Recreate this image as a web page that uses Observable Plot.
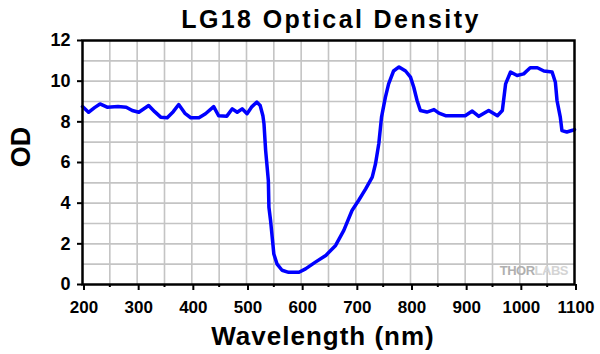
<!DOCTYPE html>
<html>
<head>
<meta charset="utf-8">
<script src="https://cdn.jsdelivr.net/npm/d3@7"></script>
<script src="https://cdn.jsdelivr.net/npm/@observablehq/plot@0.6"></script>
<style>
  html, body { margin: 0; padding: 0; background: #fff; }
  #chart { width: 600px; height: 354px; }
</style>
</head>
<body>
<div id="chart"></div>
<script>
const wavelengths = [200,211,222,232,245,265,280,291,303,321,332,343,355,366,376,388,398,413,425,440,449,464,474,483,492,501,510,519,525,530,532,535,540,541,544,547,550,556,565,577,596,608,626,645,663,678,693,705,718,730,736,742,747,754,760,769,779,791,800,806,812,818,830,843,852,864,882,900,913,925,943,959,968,974,983,995,1007,1019,1032,1044,1059,1065,1068,1074,1077,1086,1098,1100];
const odValues = [8.75,8.47,8.7,8.88,8.72,8.75,8.72,8.56,8.47,8.8,8.5,8.23,8.2,8.5,8.85,8.4,8.2,8.2,8.4,8.75,8.3,8.28,8.64,8.47,8.64,8.4,8.75,8.97,8.8,8.3,7.9,6.6,5.1,3.8,3.15,2.33,1.5,1.0,0.7,0.6,0.6,0.77,1.1,1.43,1.92,2.66,3.64,4.13,4.7,5.28,5.94,6.92,8.23,9.2,9.87,10.5,10.7,10.5,10.2,9.7,9.05,8.56,8.48,8.6,8.43,8.3,8.3,8.3,8.53,8.27,8.56,8.3,8.56,9.87,10.45,10.28,10.36,10.66,10.66,10.5,10.45,9.95,9.05,8.23,7.57,7.5,7.6,7.62];
const xTicks = [200,300,400,500,600,700,800,900,1000,1100];
const xMinorTicks = [250,350,450,550,650,750,850,950,1050];
const xGrid = [250,300,350,400,450,500,550,600,650,700,750,800,850,900,950,1000,1050];
const yTicks = [0,2,4,6,8,10,12];
const yGrid = [1,2,3,4,5,6,7,8,9,10,11];
const titleText = "LG18 Optical Density";
const xLabel = "Wavelength (nm)";
const yLabel = "OD";

const data = wavelengths.map((w, i) => ({w, od: odValues[i]}));
const font = "'Liberation Sans', Arial, sans-serif";

const chart = Plot.plot({
  width: 600,
  height: 354,
  marginLeft: 82,
  marginRight: 26,
  marginTop: 40,
  marginBottom: 70,
  style: {fontFamily: font, background: "#fff"},
  x: {domain: [200, 1100]},
  y: {domain: [0, 12]},
  marks: [
    Plot.gridX(xGrid, {stroke: "#c4c4c4", strokeOpacity: 1, strokeWidth: 1.6}),
    Plot.gridY(yGrid, {stroke: "#c4c4c4", strokeOpacity: 1, strokeWidth: 1.6}),
    Plot.line(data, {x: "w", y: "od", stroke: "#0000ff", strokeWidth: 3.5, strokeLinejoin: "round"}),
    Plot.frame({stroke: "#000", strokeWidth: 2.5}),
    Plot.axisX(xTicks, {tickSize: 6, tickPadding: 10, strokeWidth: 2, fontSize: 17, fontWeight: "bold", fill: "#000", letterSpacing: 3, dx: 1.5, label: null, tickFormat: d => String(d)}),
    Plot.axisX(xMinorTicks, {tickSize: 3, strokeWidth: 2, text: null, label: null}),
    Plot.axisY(yTicks, {tickSize: 5, tickPadding: 7, strokeWidth: 2, fontSize: 18, fontWeight: "bold", fill: "#000", letterSpacing: 1, label: null})
  ]
});

const svg = d3.select(chart);
svg.append("text")
  .attr("x", 331).attr("y", 28)
  .attr("text-anchor", "middle")
  .attr("font-family", font).attr("font-weight", "bold").attr("font-size", 25)
  .attr("letter-spacing", 2.4)
  .attr("fill", "#000")
  .text(titleText);
svg.append("text")
  .attr("x", 323).attr("y", 345)
  .attr("text-anchor", "middle")
  .attr("font-family", font).attr("font-weight", "bold").attr("font-size", 26)
  .attr("letter-spacing", 1)
  .attr("fill", "#000")
  .text(xLabel);
svg.append("text")
  .attr("transform", "translate(30,147) rotate(-90)")
  .attr("text-anchor", "middle")
  .attr("font-family", font).attr("font-weight", "bold").attr("font-size", 27)
  .attr("fill", "#000")
  .text(yLabel);
const wm = svg.append("text")
  .attr("x", 568).attr("y", 275)
  .attr("text-anchor", "end")
  .attr("font-family", font).attr("font-weight", "bold").attr("font-size", 13)
  .attr("letter-spacing", -0.5);
wm.append("tspan").attr("fill", "#b0b0b0").text("THOR");
wm.append("tspan").attr("fill", "#d4d4d4").text("LABS");

document.getElementById("chart").appendChild(chart);
</script>
</body>
</html>
